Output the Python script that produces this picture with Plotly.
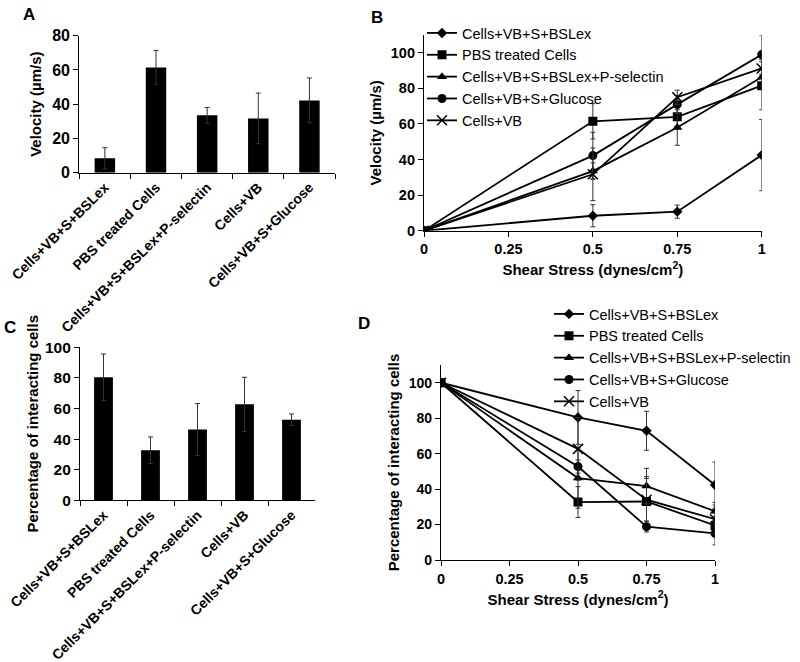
import plotly.graph_objects as go

# ---------------- data ----------------
categories = ["Cells+VB+S+BSLex", "PBS treated Cells", "Cells+VB+S+BSLex+P-selectin",
              "Cells+VB", "Cells+VB+S+Glucose"]

# Panel A: velocity at 0.5 dynes/cm2
velocity_bar = [8.4, 61.5, 33.5, 31.7, 42.2]
velocity_bar_err = [6.2, 9.9, 4.6, 14.8, 13.1]

# Panel C: percentage of interacting cells at 0.5 dynes/cm2
interact_bar = [80.4, 32.7, 46.2, 62.7, 52.7]
interact_bar_err = [15.2, 8.7, 17.0, 17.7, 3.7]

shear = [0, 0.5, 0.75, 1]
shear_ticks = [0, 0.25, 0.5, 0.75, 1]
shear_ticktext = ["0", "0.25", "0.5", "0.75", "1"]

# Panel B: velocity vs shear stress
vel_bslex = [0, 8.4, 10.7, 42.5]
vel_bslex_err = [0, 6.2, 3.7, 20.0]
vel_pbs = [0, 61.5, 64.0, 81.5]
vel_pbs_err = [0, 9.9, 5.0, 13.5]
vel_psel = [0, 33.5, 58.0, 86.3]
vel_psel_err = [0, 4.6, 10.0, 5.0]
vel_glucose = [0, 42.2, 71.0, 99.0]
vel_glucose_err = [0, 13.1, 5.0, 11.0]
vel_vb = [0, 31.7, 75.0, 91.2]
vel_vb_err = [0, 14.8, 4.0, 5.0]

# Panel D: percentage of interacting cells vs shear stress
pct_bslex = [100, 80.4, 72.9, 42.3]
pct_bslex_err = [0, 15.2, 11.0, 13.0]
pct_pbs = [100, 32.7, 33.0, 19.5]
pct_pbs_err = [0, 8.7, 14.0, 5.0]
pct_psel = [100, 46.2, 41.7, 27.5]
pct_psel_err = [0, 17.0, 10.0, 5.0]
pct_glucose = [100, 52.7, 18.8, 15.0]
pct_glucose_err = [0, 3.7, 3.0, 6.5]
pct_vb = [100, 62.7, 34.0, 23.0]
pct_vb_err = [0, 17.7, 12.0, 8.0]

W, H = 800, 662
FONT = "Liberation Sans, Arial, Helvetica, sans-serif"
BLACK = "black"
ERRC = "#333333"

def px(x):
    return x / W

def py(y):
    return 1 - y / H

fig = go.Figure()

# ---- bar panels ----
fig.add_trace(go.Bar(x=categories, y=velocity_bar, marker=dict(color=BLACK, line=dict(width=0)),
                     error_y=dict(type="data", array=velocity_bar_err, color=ERRC, thickness=1, width=2.5),
                     xaxis="x", yaxis="y", showlegend=False))
fig.add_trace(go.Bar(x=categories, y=interact_bar, marker=dict(color=BLACK, line=dict(width=0)),
                     error_y=dict(type="data", array=interact_bar_err, color=ERRC, thickness=1, width=2.5),
                     xaxis="x3", yaxis="y3", showlegend=False))

# ---- line panels ----
series_names = ["Cells+VB+S+BSLex", "PBS treated Cells", "Cells+VB+S+BSLex+P-selectin",
                "Cells+VB+S+Glucose", "Cells+VB"]
symbols = ["diamond", "square", "triangle-up", "circle", "x-thin"]
sizes = [8, 9, 9, 9, 10]
vel_series = [(vel_bslex, vel_bslex_err), (vel_pbs, vel_pbs_err), (vel_psel, vel_psel_err),
              (vel_glucose, vel_glucose_err), (vel_vb, vel_vb_err)]
pct_series = [(pct_bslex, pct_bslex_err), (pct_pbs, pct_pbs_err), (pct_psel, pct_psel_err),
              (pct_glucose, pct_glucose_err), (pct_vb, pct_vb_err)]

for name, sym, sz, (vals, errs) in zip(series_names, symbols, sizes, vel_series):
    mk = dict(symbol=sym, size=sz, color=BLACK)
    if sym == "x-thin":
        mk["line"] = dict(color=BLACK, width=1.5)
    fig.add_trace(go.Scatter(x=shear, y=vals, mode="lines+markers", name=name,
                             line=dict(color=BLACK, width=1.8), marker=mk,
                             error_y=dict(type="data", array=errs, color=ERRC, thickness=1, width=2.5),
                             xaxis="x2", yaxis="y2", legend="legend"))
for name, sym, sz, (vals, errs) in zip(series_names, symbols, sizes, pct_series):
    mk = dict(symbol=sym, size=sz, color=BLACK)
    if sym == "x-thin":
        mk["line"] = dict(color=BLACK, width=1.5)
    fig.add_trace(go.Scatter(x=shear, y=vals, mode="lines+markers", name=name,
                             line=dict(color=BLACK, width=1.8), marker=mk,
                             error_y=dict(type="data", array=errs, color=ERRC, thickness=1, width=2.5),
                             xaxis="x4", yaxis="y4", legend="legend2"))

tick_font_y = dict(family=FONT, size=15, color=BLACK, weight="bold")
title_font = dict(family=FONT, size=15, color=BLACK, weight="bold")
cat_font = dict(family=FONT, size=14, color=BLACK, weight="bold")

def base_axis(**kw):
    d = dict(showline=True, linecolor=BLACK, linewidth=1.2, showgrid=False, zeroline=False,
             ticks="outside", ticklen=5, tickwidth=1.2, tickcolor=BLACK, automargin=False)
    d.update(kw)
    return d

fig.update_layout(
    width=W, height=H, autosize=False,
    margin=dict(l=0, r=0, t=0, b=0, pad=0, autoexpand=False),
    paper_bgcolor="white", plot_bgcolor="white",
    bargap=0.6,
    # Panel A
    xaxis=base_axis(domain=[px(79.3), px(335)], anchor="y", type="category",
                    tickson="boundaries", tickangle=-45, tickfont=cat_font),
    yaxis=base_axis(domain=[py(172.7), py(35.7)], anchor="x", range=[0, 80],
                    tickvals=[0, 20, 40, 60, 80], tickfont=dict(tick_font_y, size=16),
                    title=dict(text="Velocity (µm/s)", font=title_font, standoff=6)),
    # Panel B
    xaxis2=base_axis(domain=[px(424), px(761.7)], anchor="y2", range=[0, 1],
                     tickvals=shear_ticks, ticktext=shear_ticktext, tickfont=dict(tick_font_y, size=14.5),
                     title=dict(text="Shear Stress (dynes/cm<sup>2</sup>)", font=title_font, standoff=8)),
    yaxis2=base_axis(domain=[py(230.7), py(35)], anchor="x2", range=[0, 110],
                     tickvals=[0, 20, 40, 60, 80, 100], tickfont=dict(tick_font_y, size=14.5),
                     title=dict(text="Velocity (µm/s)", font=title_font, standoff=5)),
    # Panel C
    xaxis3=base_axis(domain=[px(80), px(315)], anchor="y3", type="category",
                     tickson="boundaries", tickangle=-45, tickfont=cat_font),
    yaxis3=base_axis(domain=[py(500.3), py(347.3)], anchor="x3", range=[0, 100],
                     tickvals=[0, 20, 40, 60, 80, 100], tickfont=dict(tick_font_y, size=15.5),
                     title=dict(text="Percentage of interacting cells", font=title_font, standoff=2)),
    # Panel D
    xaxis4=base_axis(domain=[px(441), px(715)], anchor="y4", range=[0, 1],
                     tickvals=shear_ticks, ticktext=shear_ticktext, tickfont=dict(tick_font_y, size=14.5),
                     title=dict(text="Shear Stress (dynes/cm<sup>2</sup>)", font=title_font, standoff=8)),
    yaxis4=base_axis(domain=[py(560), py(365)], anchor="x4", range=[0, 110],
                     tickvals=[0, 20, 40, 60, 80, 100], tickfont=dict(tick_font_y, size=14),
                     title=dict(text="Percentage of interacting cells", font=title_font, standoff=5)),
    legend=dict(x=px(422), y=py(17), xanchor="left", yanchor="top", bgcolor="rgba(0,0,0,0)",
                font=dict(family=FONT, size=14.5, color=BLACK), itemwidth=30,
                traceorder="normal"),
    legend2=dict(x=px(549), y=py(298), xanchor="left", yanchor="top", bgcolor="rgba(0,0,0,0)",
                 font=dict(family=FONT, size=14.5, color=BLACK), itemwidth=30,
                 traceorder="normal"),
)

for label, cx, cy in [("A", 29, 15), ("B", 376.5, 17.5), ("C", 10, 327), ("D", 363.5, 324)]:
    fig.add_annotation(text=label, x=px(cx), y=py(cy), xref="paper", yref="paper",
                       showarrow=False, xanchor="center", yanchor="middle",
                       font=dict(family=FONT, size=17, color=BLACK, weight="bold"))

# remove the browser's default 8px page margin so the 800x662 figure fills the window
fig.write_html("out.html", config={"displayModeBar": False},
               post_script="document.body.style.margin='0';document.body.style.overflow='hidden';")
